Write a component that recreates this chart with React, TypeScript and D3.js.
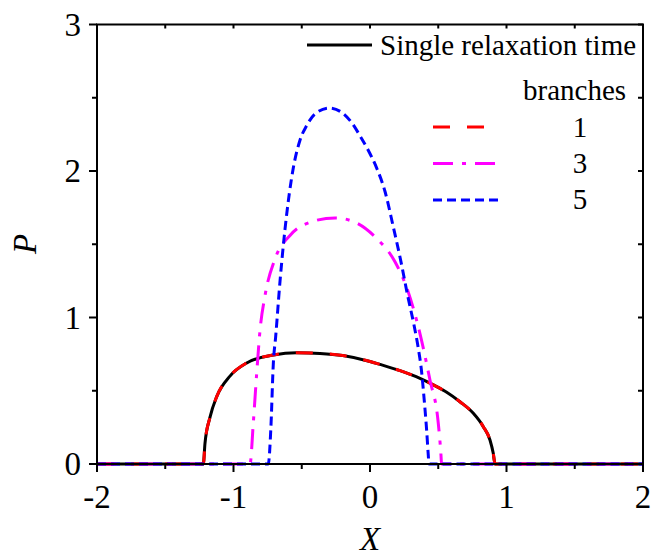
import React from "react";
import * as d3 from "d3";

// Probability density P(X) for the single relaxation time model and for
// models with 1, 3 and 5 branches.
const singleX = [-2, -1.221, -1.209, -1.172, -1.123, -1.026, -0.903, -0.708, -0.537, -0.366, -0.2, 0, 0.073, 0.22, 0.366, 0.464, 0.562, 0.659, 0.757, 0.83, 0.879, 0.903, 0.916, 2];
const singleP = [0, 0, 0.14, 0.32, 0.46, 0.6, 0.69, 0.744, 0.76, 0.755, 0.74, 0.7, 0.68, 0.637, 0.585, 0.54, 0.49, 0.425, 0.346, 0.255, 0.164, 0.073, 0, 0];

const branch3X = [-2, -0.879, -0.855, -0.83, -0.806, -0.769, -0.696, -0.586, -0.44, -0.256, -0.11, 0.037, 0.183, 0.278, 0.366, 0.44, 0.5, 0.52, 0.524, 2];
const branch3P = [0, 0, 0.28, 0.62, 0.91, 1.15, 1.4, 1.56, 1.65, 1.68, 1.65, 1.55, 1.38, 1.18, 0.89, 0.57, 0.28, 0.06, 0, 0];

const branch5X = [-2, -0.745, -0.727, -0.708, -0.691, -0.659, -0.623, -0.592, -0.562, -0.513, -0.464, -0.403, -0.298, -0.207, -0.134, -0.073, -0.012, 0.049, 0.11, 0.168, 0.227, 0.278, 0.322, 0.352, 0.378, 0.395, 0.415, 0.427, 0.432, 2];
const branch5P = [0, 0, 0.23, 0.69, 0.87, 1.25, 1.6, 1.84, 2.02, 2.21, 2.31, 2.39, 2.43, 2.4, 2.33, 2.24, 2.14, 2.02, 1.86, 1.63, 1.38, 1.14, 0.95, 0.8, 0.63, 0.46, 0.23, 0.06, 0, 0];

const xMajor = [-2, -1, 0, 1, 2];
const xMinor = [-1.5, -0.5, 0.5, 1.5];
const yMajor = [0, 1, 2, 3];
const yMinor = [0.5, 1.5, 2.5];

const legendBranches = ["1", "3", "5"];

const W = 651;
const H = 558;
const left = 97;
const right = 643;
const top = 24.5;
const bottom = 464;

const FONT = "'Liberation Serif', 'Times New Roman', serif";

export default function App() {
  const x = d3.scaleLinear().domain([-2, 2]).range([left, right]);
  const y = d3.scaleLinear().domain([0, 3]).range([bottom, top]);

  const line = d3
    .line<[number, number]>()
    .x((d) => x(d[0]))
    .y((d) => y(d[1]))
    .curve(d3.curveMonotoneX);

  const zip = (xs: number[], ps: number[]) =>
    xs.map((v, i) => [v, ps[i]] as [number, number]);

  const singlePath = line(zip(singleX, singleP)) || "";
  const b3Path = line(zip(branch3X, branch3P)) || "";
  const b5Path = line(zip(branch5X, branch5P)) || "";

  const styles = [
    { stroke: "#ff0000", dash: "17 17" },
    { stroke: "#ff00ff", dash: "20 9 4 9" },
    { stroke: "#0000ff", dash: "9 5" },
  ];

  return (
    <svg
      width={W}
      height={H}
      style={{ position: "absolute", left: 0, top: 0, background: "#fff" }}
      fontFamily={FONT}
    >
      <rect width={W} height={H} fill="#fff" />

      {/* curves */}
      <g fill="none" strokeWidth={3}>
        <path d={singlePath} stroke="#000" />
        <path d={singlePath} stroke={styles[0].stroke} strokeDasharray={styles[0].dash} />
        <path d={b3Path} stroke={styles[1].stroke} strokeDasharray={styles[1].dash} />
        <path d={b5Path} stroke={styles[2].stroke} strokeDasharray={styles[2].dash} />
      </g>

      {/* frame */}
      <rect
        x={left}
        y={top}
        width={right - left}
        height={bottom - top}
        fill="none"
        stroke="#000"
        strokeWidth={2}
      />

      {/* ticks */}
      <g stroke="#000" strokeWidth={2}>
        {xMajor.map((t) => (
          <line key={"xM" + t} x1={x(t)} x2={x(t)} y1={bottom} y2={bottom + 8} />
        ))}
        {xMinor.map((t) => (
          <line key={"xm" + t} x1={x(t)} x2={x(t)} y1={bottom} y2={bottom + 5} />
        ))}
        {[...xMajor, ...xMinor].map((t) => (
          <line key={"xt" + t} x1={x(t)} x2={x(t)} y1={top} y2={top + 4} />
        ))}
        {yMajor.map((t) => (
          <line key={"yM" + t} x1={left - 8} x2={left} y1={y(t)} y2={y(t)} />
        ))}
        {yMinor.map((t) => (
          <line key={"ym" + t} x1={left - 5} x2={left} y1={y(t)} y2={y(t)} />
        ))}
        {[...yMajor, ...yMinor].map((t) => (
          <line key={"yr" + t} x1={right - 5} x2={right} y1={y(t)} y2={y(t)} />
        ))}
      </g>

      {/* tick labels */}
      <g fontSize={33} fill="#000">
        {xMajor.map((t) => (
          <text key={"xl" + t} x={x(t)} y={508} textAnchor="middle">
            {t < 0 ? "-" + Math.abs(t) : String(t)}
          </text>
        ))}
        {yMajor.map((t) => (
          <text key={"yl" + t} x={81} y={y(t) + 11} textAnchor="end">
            {String(t)}
          </text>
        ))}
      </g>

      {/* axis titles */}
      <text x={x(0)} y={550} textAnchor="middle" fontSize={33} fontStyle="italic">
        X
      </text>
      <text
        transform={`translate(36, 244) rotate(-90)`}
        textAnchor="middle"
        fontSize={33}
        fontStyle="italic"
      >
        P
      </text>

      {/* legend */}
      <line x1={307} x2={372} y1={45} y2={45} stroke="#000" strokeWidth={3} />
      <text x={380} y={55} fontSize={29}>
        Single relaxation time
      </text>
      <text x={523} y={100} fontSize={29}>
        branches
      </text>
      {legendBranches.map((b, i) => (
        <g key={b}>
          <line
            x1={433}
            x2={i === 0 ? 485 : i === 1 ? 497 : 503}
            y1={127 + i * 36.5}
            y2={127 + i * 36.5}
            stroke={styles[i].stroke}
            strokeWidth={3}
            strokeDasharray={styles[i].dash}
          />
          <text x={580} y={137 + i * 36} textAnchor="middle" fontSize={29}>
            {b}
          </text>
        </g>
      ))}
    </svg>
  );
}
